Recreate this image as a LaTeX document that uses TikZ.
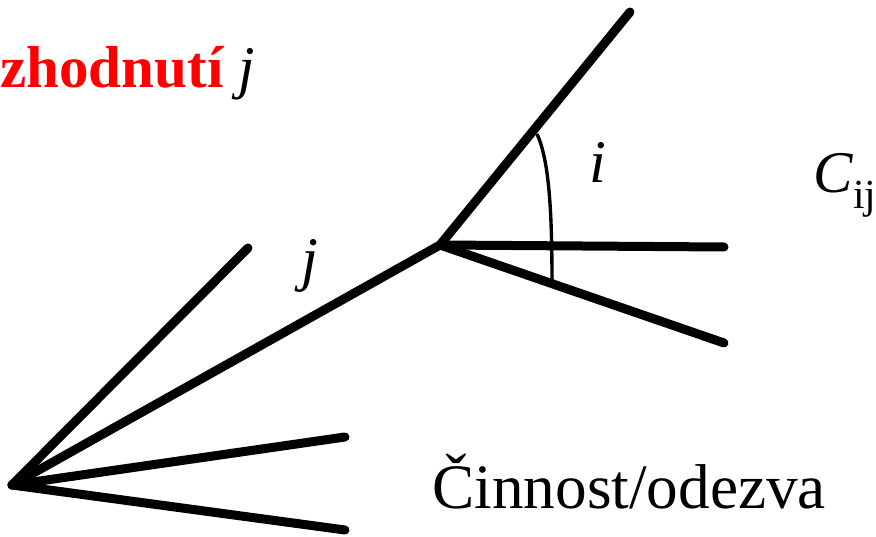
\documentclass[tikz,border=0pt]{standalone}
\usepackage{fontspec}
\setmainfont{Liberation Serif}
\usepackage{xcolor}
\definecolor{titleRed}{RGB}{255,0,0}

\begin{document}
\begin{tikzpicture}[x=0.025cm,y=-0.025cm,
  branch/.style={line width=6.4pt,line cap=round},
  anglearc/.style={line width=2.4pt},
  lbl/.style={inner sep=0pt,font=\fontsize{43}{48}\selectfont\itshape}]
\useasboundingbox (0,0) rectangle (876,537);
% tree points
\coordinate (root) at (12,485);
\coordinate (fork) at (440,245);
\coordinate (leafA) at (248,248);
\coordinate (leafB) at (345,437);
\coordinate (leafC) at (345,530);
\coordinate (upI) at (630,12);
\coordinate (midI) at (724,247);
\coordinate (lowI) at (724,343);
\coordinate (arcTop) at (537,134);
\coordinate (arcBot) at (552,282);
% branches
\draw[branch] (root) -- (leafA);
\draw[branch] (root) -- (fork);
\draw[branch] (root) -- (leafB);
\draw[branch] (root) -- (leafC);
\draw[branch] (fork) -- (upI);
\draw[branch] (fork) -- (midI);
\draw[branch] (fork) -- (lowI);
\draw[anglearc] (arcTop) .. controls (549,160) and (552,210) .. (arcBot);
% labels
\node[inner sep=0pt,anchor=base west,font=\fontsize{42}{46}\selectfont] (title) at (0,88) {{\bfseries\color{titleRed}zhodnutí} \textit{j}};
\node[lbl,anchor=base] (lblI) at (598,183) {i};
\node[inner sep=0pt,anchor=base west,font=\fontsize{42}{46}\selectfont] (lblC) at (813,193) {\textit{C}\textsubscript{ij}};
\node[lbl,anchor=base] (lblJ) at (310,280) {j};
\node[inner sep=0pt,anchor=base west,font=\fontsize{45}{50}\selectfont] (lblAct) at (432,508) {Činnost/odezva};
\end{tikzpicture}
\end{document}
